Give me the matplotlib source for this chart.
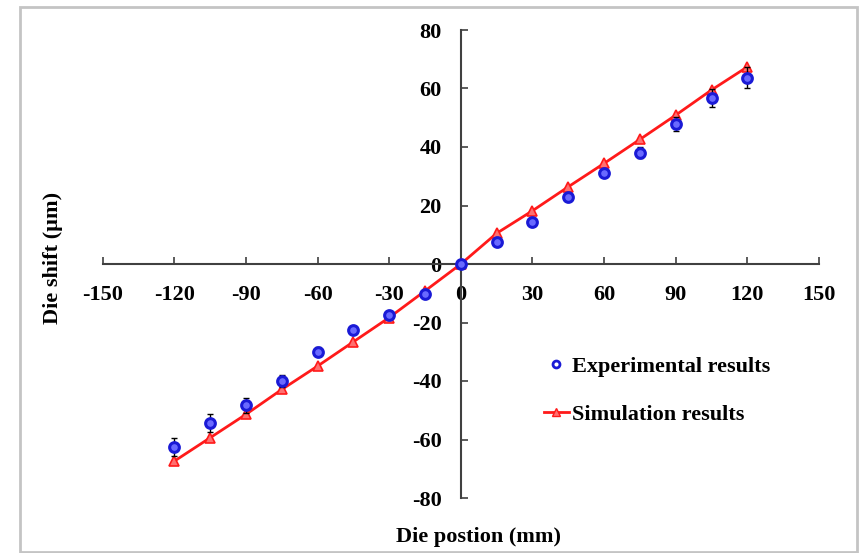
import matplotlib
matplotlib.use('Agg')
import matplotlib.pyplot as plt
from matplotlib.lines import Line2D
from matplotlib.patches import Rectangle

plt.rcParams['font.family'] = ['Liberation Serif', 'DejaVu Serif']
plt.rcParams['font.weight'] = 'bold'
plt.rcParams['axes.unicode_minus'] = False

# ── Data ──────────────────────────────────────────────────────────────────────
positions = [-120, -105, -90, -75, -60, -45, -30, -15, 0,
             15, 30, 45, 60, 75, 90, 105, 120]
exp_shift = [-62.6, -54.3, -48.3, -40.0, -30.0, -22.5, -17.4, -10.3, 0.0,
             7.4, 14.5, 23.0, 31.0, 38.1, 47.8, 56.7, 63.7]
exp_err   = [3.0, 3.0, 2.5, 2.0, 1.5, 1.0, 1.0, 1.0, 0.5,
             1.0, 1.0, 1.0, 1.0, 2.0, 2.5, 3.0, 3.5]
sim_shift = [-67.4, -59.4, -51.4, -42.9, -34.9, -26.6, -18.3, -9.2, 0.0,
             10.5, 18.2, 26.4, 34.4, 42.6, 50.9, 59.5, 67.4]

xticks = [-150, -120, -90, -60, -30, 0, 30, 60, 90, 120, 150]
yticks = [-80, -60, -40, -20, 0, 20, 40, 60, 80]

FS = 16
blue = '#1a1ad6'
red = '#ff1a1a'

fig = plt.figure(figsize=(8.64, 5.53), dpi=100)
ax = fig.add_axes([102.7 / 864, 1 - 498 / 553, 716.3 / 864, 468 / 553])

ax.plot(positions, sim_shift, color=red, lw=2, marker='^', ms=7,
        mfc='#ff7070', mec=red, mew=1.2, zorder=3)
ax.errorbar(positions, exp_shift, yerr=exp_err, fmt='none', ecolor='black',
            elinewidth=1, capsize=2, zorder=4)
ax.plot(positions, exp_shift, ls='none', marker='o', ms=7, mfc='#6a6aff',
        mec=blue, mew=2.2, zorder=5)

ax.set_xlim(-150, 150)
ax.set_ylim(-80, 80)
ax.set_xticks(xticks)
ax.set_yticks(yticks)

for side in ['top', 'right']:
    ax.spines[side].set_visible(False)
for side in ['left', 'bottom']:
    ax.spines[side].set_position(('data', 0))
    ax.spines[side].set_color('#404040')
    ax.spines[side].set_linewidth(1.5)

ax.tick_params(axis='both', direction='in', length=5, width=1.2,
               color='#404040', labelsize=FS)
ax.tick_params(axis='x', pad=15)
ax.tick_params(axis='y', pad=14)

fig.text(53 / 864, 1 - 258 / 553, 'Die shift (µm)', rotation=90,
         ha='center', va='center', fontsize=FS, fontweight='bold')
fig.text(479 / 864, 1 - 537 / 553, 'Die postion (mm)',
         ha='center', va='center', fontsize=FS, fontweight='bold')

handles = [
    Line2D([], [], ls='none', marker='o', ms=5, mfc='white', mec=blue, mew=2),
    Line2D([], [], color=red, lw=2, marker='^', ms=6, mfc='#ff7070', mec=red),
]
fig.legend(handles, ['Experimental results', 'Simulation results'],
           loc='upper left', bbox_to_anchor=(533 / 864, 1 - 345 / 553),
           frameon=False, fontsize=FS, handlelength=1.1, handletextpad=0.15,
           labelspacing=1.25, borderpad=0)

fig.patches.append(Rectangle((20 / 864, 1 - 552 / 553), 837 / 864, 545 / 553,
                             transform=fig.transFigure, fill=False,
                             edgecolor='#c4c4c4', lw=2))

fig.savefig('out.png', dpi=100)
